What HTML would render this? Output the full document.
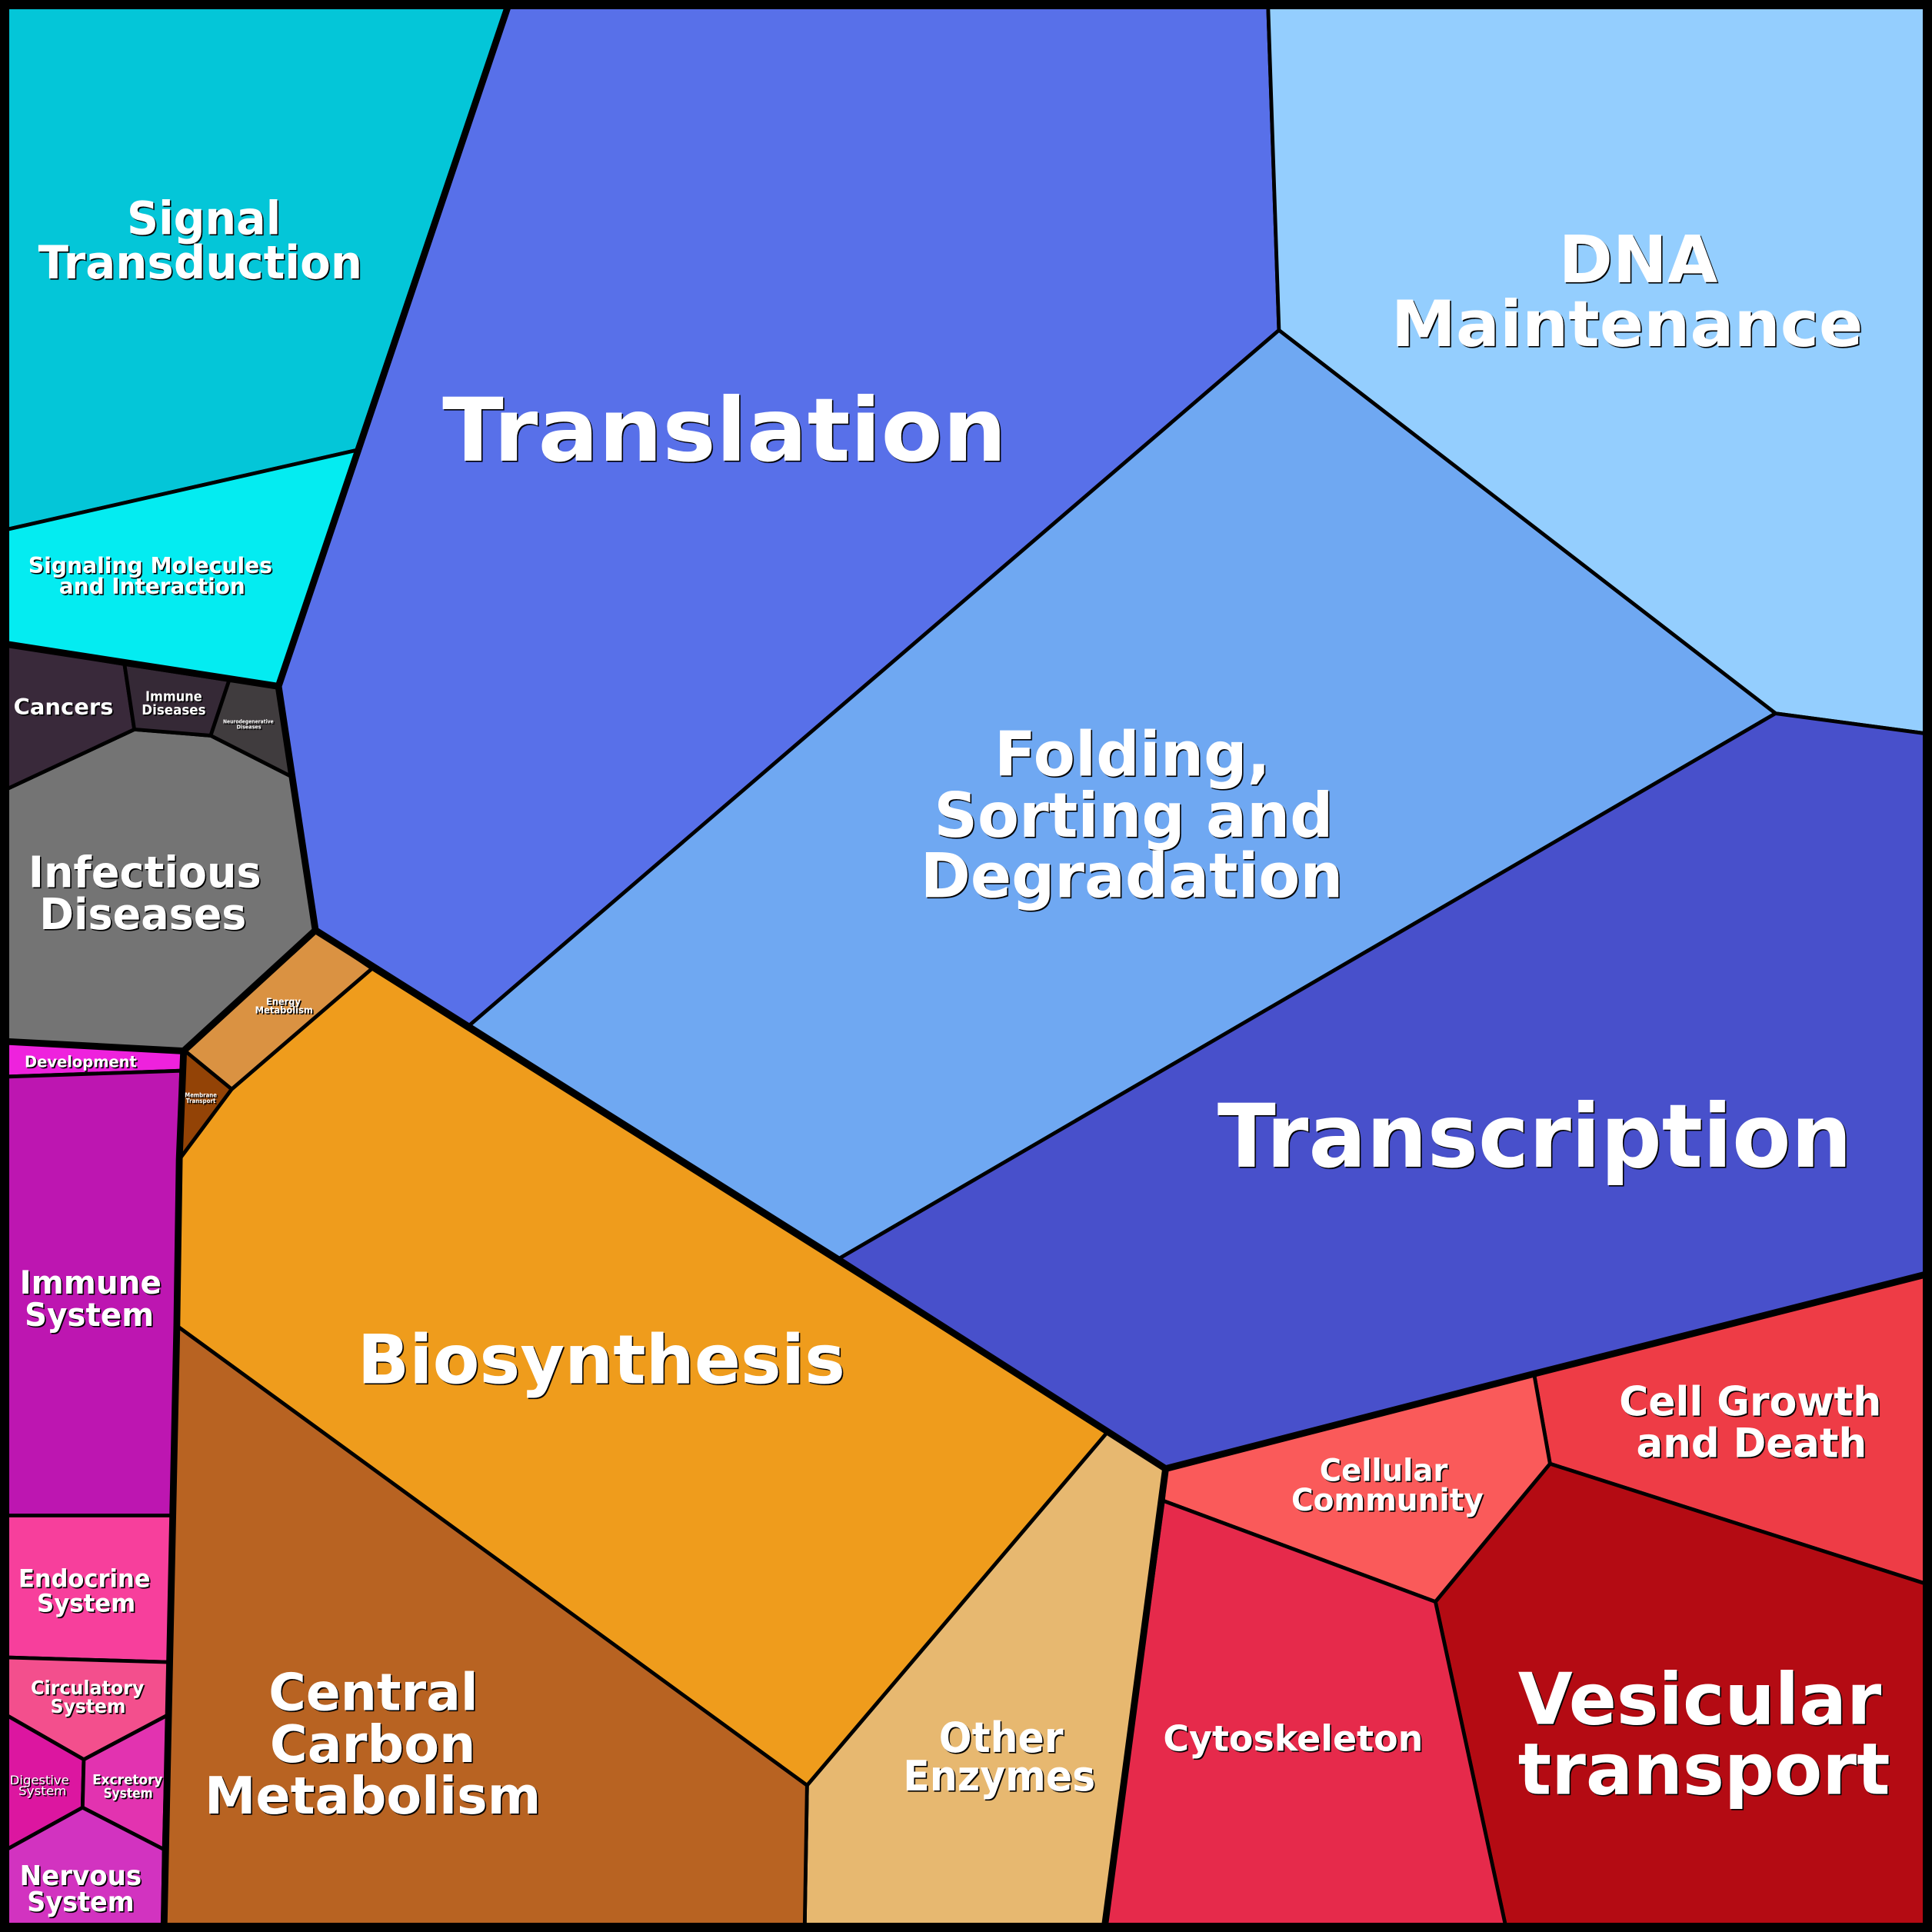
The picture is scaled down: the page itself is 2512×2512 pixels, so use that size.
<!DOCTYPE html>
<html><head><meta charset="utf-8"><style>
html,body{margin:0;padding:0;background:#000;width:2512px;height:2512px;overflow:hidden}
svg{display:block}
.c polygon{stroke:#000;stroke-width:3;stroke-linejoin:miter}
.t polyline{fill:none;stroke:#000;stroke-width:5.5;stroke-linejoin:miter}
.l text{font-family:"DejaVu Sans","Liberation Sans",sans-serif;font-weight:700;fill:#fff}
.l{filter:drop-shadow(1.4px 1.4px 0 #000)}
</style></head><body>
<svg xmlns="http://www.w3.org/2000/svg" width="2512" height="2512" viewBox="0 0 1568 1568">
<rect width="1568" height="1568" fill="#000"/>
<g class="c">
<polygon fill="#04c6d8" points="0,0 414,0 291,365 0,431"/>
<polygon fill="#04ecf1" points="0,431 291,365 226,557 0,522"/>
<polygon fill="#5870e9" points="414,0 1029,0 1038,268 380,833 256,755 226,557"/>
<polygon fill="#94cefe" points="1029,0 1568,0 1568,596 1441,579 1038,268"/>
<polygon fill="#6fa8f2" points="1038,268 1441,579 680,1022 380,833"/>
<polygon fill="#4850cb" points="1441,579 1568,596 1568,1033 946,1192 680,1022"/>
<polygon fill="#ee3c46" points="1245,1115 1568,1033 1568,1287 1258,1188"/>
<polygon fill="#fa5a5a" points="946,1192 1245,1115 1258,1188 1165,1300 944,1218"/>
<polygon fill="#b40b13" points="1258,1188 1568,1287 1568,1568 1223,1568 1165,1300"/>
<polygon fill="#e62a4b" points="944,1218 1165,1300 1223,1568 896,1568"/>
<polygon fill="#e7b870" points="899,1162 946,1192 896,1568 653,1568 655,1449"/>
<polygon fill="#ef9c1c" points="302,786 899,1162 655,1449 143.5,1076 145.5,941 188,884"/>
<polygon fill="#b86322" points="143.5,1076 655,1449 653,1568 133,1568"/>
<polygon fill="#da9242" points="256,755 302,786 188,884 149,852"/>
<polygon fill="#934306" points="149,852 188,884 145.5,941"/>
<polygon fill="#747474" points="0,845 149,853 256,755 236,630 171,597 109,592 0,643"/>
<polygon fill="#39293a" points="0,522 101,539 109,592 0,643"/>
<polygon fill="#352936" points="101,539 186,552 171,597 109,592"/>
<polygon fill="#403c3e" points="186,552 226,557 236,630 171,597"/>
<polygon fill="#ee22dd" points="0,845 149,853 147,869 0,874"/>
<polygon fill="#bd16b1" points="0,874 147,869 140,1230 0,1230"/>
<polygon fill="#f73f9c" points="0,1230 140,1230 137,1349 0,1345"/>
<polygon fill="#f34f8d" points="0,1345 137,1349 136,1392 68,1428 0,1389"/>
<polygon fill="#dc16a0" points="0,1389 68,1428 67,1467 0,1504"/>
<polygon fill="#e233b0" points="68,1428 136,1392 133,1501 67,1467"/>
<polygon fill="#d233c0" points="0,1504 67,1467 133,1501 132,1568 0,1568"/>
</g>
<g class="t">
<polyline points="414,0 226,557 256,755 380,833 680,1022 946,1192 896,1568"/>
<polyline points="0,522 226,557"/>
<polyline points="256,755 149,853 0,845"/>
<polyline points="149,853 145.5,941 143.5,1076 133,1568"/>
<polyline points="946,1192 1245,1115 1568,1033"/>
</g>
<rect x="3.75" y="3.75" width="1560.5" height="1560.5" fill="none" stroke="#000" stroke-width="7.5"/>
<g class="l">
<text x="103" y="190" font-size="37" textLength="125" lengthAdjust="spacingAndGlyphs">Signal</text>
<text x="31" y="226" font-size="37" textLength="263" lengthAdjust="spacingAndGlyphs">Transduction</text>
<text x="23" y="465" font-size="18" textLength="198" lengthAdjust="spacingAndGlyphs">Signaling Molecules</text>
<text x="48" y="482" font-size="18" textLength="151" lengthAdjust="spacingAndGlyphs">and Interaction</text>
<text x="1265" y="229" font-size="53" textLength="129" lengthAdjust="spacingAndGlyphs">DNA</text>
<text x="1129" y="281" font-size="52" textLength="383" lengthAdjust="spacingAndGlyphs">Maintenance</text>
<text x="359" y="374" font-size="71" textLength="458" lengthAdjust="spacingAndGlyphs">Translation</text>
<text x="807" y="629.5" font-size="50" textLength="224" lengthAdjust="spacingAndGlyphs">Folding,</text>
<text x="758" y="679" font-size="50" textLength="324" lengthAdjust="spacingAndGlyphs">Sorting and</text>
<text x="747" y="728" font-size="50" textLength="343" lengthAdjust="spacingAndGlyphs">Degradation</text>
<text x="988" y="947" font-size="71" textLength="515" lengthAdjust="spacingAndGlyphs">Transcription</text>
<text x="290" y="1122.5" font-size="55" textLength="396" lengthAdjust="spacingAndGlyphs">Biosynthesis</text>
<text x="218" y="1388" font-size="42" textLength="170" lengthAdjust="spacingAndGlyphs">Central</text>
<text x="219" y="1430" font-size="42" textLength="167" lengthAdjust="spacingAndGlyphs">Carbon</text>
<text x="166" y="1472" font-size="42" textLength="273" lengthAdjust="spacingAndGlyphs">Metabolism</text>
<text x="762" y="1422" font-size="34" textLength="101" lengthAdjust="spacingAndGlyphs">Other</text>
<text x="733" y="1453" font-size="34" textLength="156" lengthAdjust="spacingAndGlyphs">Enzymes</text>
<text x="944" y="1421" font-size="29" textLength="211" lengthAdjust="spacingAndGlyphs">Cytoskeleton</text>
<text x="1232" y="1399" font-size="58" textLength="295" lengthAdjust="spacingAndGlyphs">Vesicular</text>
<text x="1232" y="1456" font-size="58" textLength="302" lengthAdjust="spacingAndGlyphs">transport</text>
<text x="1071" y="1202" font-size="25" textLength="104" lengthAdjust="spacingAndGlyphs">Cellular</text>
<text x="1048" y="1226" font-size="25" textLength="156" lengthAdjust="spacingAndGlyphs">Community</text>
<text x="1314" y="1149" font-size="33" textLength="213" lengthAdjust="spacingAndGlyphs">Cell Growth</text>
<text x="1328" y="1182.5" font-size="33" textLength="187" lengthAdjust="spacingAndGlyphs">and Death</text>
<text x="23" y="720" font-size="35" textLength="189" lengthAdjust="spacingAndGlyphs">Infectious</text>
<text x="32" y="754" font-size="35" textLength="168" lengthAdjust="spacingAndGlyphs">Diseases</text>
<text x="11" y="580" font-size="18" textLength="81" lengthAdjust="spacingAndGlyphs">Cancers</text>
<text x="118" y="569" font-size="11" textLength="46" lengthAdjust="spacingAndGlyphs">Immune</text>
<text x="115" y="580" font-size="11" textLength="52" lengthAdjust="spacingAndGlyphs">Diseases</text>
<text x="181" y="587" font-size="4.4" textLength="41" lengthAdjust="spacingAndGlyphs">Neurodegenerative</text>
<text x="192" y="591.5" font-size="4.4" textLength="20" lengthAdjust="spacingAndGlyphs">Diseases</text>
<text x="216" y="815.5" font-size="8" textLength="28" lengthAdjust="spacingAndGlyphs">Energy</text>
<text x="207" y="822.5" font-size="8" textLength="47" lengthAdjust="spacingAndGlyphs">Metabolism</text>
<text x="150" y="890.5" font-size="5" textLength="26" lengthAdjust="spacingAndGlyphs">Membrane</text>
<text x="151" y="895" font-size="5" textLength="24" lengthAdjust="spacingAndGlyphs">Transport</text>
<text x="20" y="866" font-size="13" textLength="91" lengthAdjust="spacingAndGlyphs">Development</text>
<text x="16" y="1050" font-size="26" textLength="115" lengthAdjust="spacingAndGlyphs">Immune</text>
<text x="20" y="1076" font-size="26" textLength="105" lengthAdjust="spacingAndGlyphs">System</text>
<text x="15" y="1288" font-size="20" textLength="107" lengthAdjust="spacingAndGlyphs">Endocrine</text>
<text x="30" y="1308" font-size="20" textLength="80" lengthAdjust="spacingAndGlyphs">System</text>
<text x="25" y="1375" font-size="15.5" textLength="92" lengthAdjust="spacingAndGlyphs">Circulatory</text>
<text x="41" y="1390" font-size="15.5" textLength="61" lengthAdjust="spacingAndGlyphs">System</text>
<text x="8" y="1448" font-size="10" style="font-weight:400" textLength="48" lengthAdjust="spacingAndGlyphs">Digestive</text>
<text x="15" y="1457" font-size="10" style="font-weight:400" textLength="39" lengthAdjust="spacingAndGlyphs">System</text>
<text x="75" y="1448" font-size="11" textLength="57" lengthAdjust="spacingAndGlyphs">Excretory</text>
<text x="84" y="1459" font-size="11" textLength="40" lengthAdjust="spacingAndGlyphs">System</text>
<text x="16" y="1530" font-size="22" textLength="99" lengthAdjust="spacingAndGlyphs">Nervous</text>
<text x="22" y="1551" font-size="22" textLength="87" lengthAdjust="spacingAndGlyphs">System</text>
</g>
</svg>
</body></html>
